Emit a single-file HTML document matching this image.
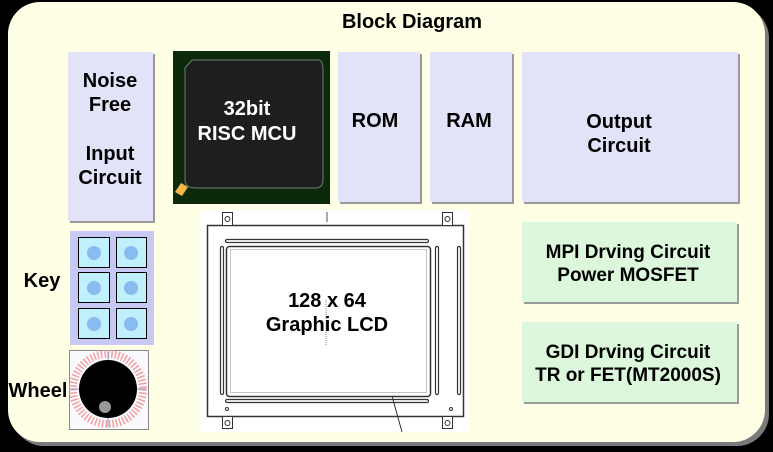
<!DOCTYPE html>
<html><head><meta charset="utf-8"><style>
html,body{margin:0;padding:0;background:#000;}
svg{display:block;}
text{font-family:"Liberation Sans",Arial,sans-serif;font-weight:bold;}
</style></head><body>
<svg width="773" height="452" viewBox="0 0 773 452" xmlns="http://www.w3.org/2000/svg">
<rect width="773" height="452" fill="#000"/>
<rect x="12" y="6" width="757" height="440" rx="32" fill="#7a7a7a"/>
<rect x="8" y="2" width="757" height="440" rx="32" fill="#ffffe6"/>
<text x="412" y="28" font-size="20" text-anchor="middle" fill="#000">Block Diagram</text>

<!-- Noise box -->
<rect x="70" y="54" width="85" height="169" fill="#999"/>
<rect x="68" y="52" width="85" height="169" fill="#e2e2f8"/>
<g font-size="20" text-anchor="middle" fill="#000">
<text x="110" y="87">Noise</text><text x="110" y="111">Free</text>
<text x="110" y="160">Input</text><text x="110" y="184">Circuit</text>
</g>

<!-- MCU -->
<rect x="173" y="51" width="157" height="153" fill="#0a2a0a"/>
<path d="M185 68 L192 60 L318 60 Q323 60 323 70 L323 180 Q323 188 315 188 L196 188 Q185 188 185 180 Z" fill="#1e1e1e" stroke="#777" stroke-width="1"/>
<polygon points="175,192 181,183 188,187 182,196" fill="#f2b84b"/>
<g font-size="20" text-anchor="middle" fill="#fff">
<text x="247" y="115">32bit</text><text x="247" y="140">RISC MCU</text>
</g>

<!-- ROM/RAM/Output -->
<rect x="340" y="54" width="82" height="150" fill="#999"/>
<rect x="338" y="52" width="82" height="150" fill="#e2e2f8"/>
<rect x="432" y="54" width="82" height="150" fill="#999"/>
<rect x="430" y="52" width="82" height="150" fill="#e2e2f8"/>
<rect x="524" y="54" width="216" height="150" fill="#999"/>
<rect x="522" y="52" width="216" height="150" fill="#e2e2f8"/>
<g font-size="20" text-anchor="middle" fill="#000">
<text x="375" y="127">ROM</text><text x="469" y="127">RAM</text>
<text x="619" y="128">Output</text><text x="619" y="152">Circuit</text>
</g>

<!-- MPI / GDI -->
<rect x="524" y="224" width="215" height="80" fill="#999"/>
<rect x="522" y="222" width="215" height="80" fill="#dcf7dc"/>
<rect x="524" y="324" width="215" height="80" fill="#999"/>
<rect x="522" y="322" width="215" height="80" fill="#dcf7dc"/>
<g font-size="19" text-anchor="middle" fill="#000">
<text x="628" y="258">MPI Drving Circuit</text><text x="628" y="281">Power MOSFET</text>
<text x="628" y="358">GDI Drving Circuit</text><text x="628" y="381">TR or FET(MT2000S)</text>
</g>

<!-- Keys -->
<text x="42" y="287" font-size="20" text-anchor="middle" fill="#000">Key</text>
<rect x="70" y="231" width="84" height="114" fill="#c8c8f4"/>
<g stroke="#000" stroke-width="1" fill="#c0f0fb">
<rect x="78.5" y="237.5" width="31" height="30"/><rect x="116.5" y="237.5" width="30" height="30"/>
<rect x="78.5" y="272.5" width="31" height="30"/><rect x="116.5" y="272.5" width="30" height="30"/>
<rect x="78.5" y="308.5" width="31" height="30"/><rect x="116.5" y="308.5" width="30" height="30"/>
</g>
<g fill="#88bbee">
<circle cx="94" cy="253" r="7"/><circle cx="131" cy="253" r="7"/>
<circle cx="94" cy="288" r="7"/><circle cx="131" cy="288" r="7"/>
<circle cx="94" cy="324" r="7"/><circle cx="131" cy="324" r="7"/>
</g>

<!-- Wheel -->
<rect x="69.5" y="350.5" width="79" height="79" fill="#fafafe" stroke="#888"/>
<circle cx="108" cy="389" r="35" fill="none" stroke="#f0a0a0" stroke-width="8" stroke-dasharray="1.5 2"/>
<line x1="108" y1="352" x2="108" y2="427" stroke="#8899cc"/>
<line x1="71" y1="389" x2="146" y2="389" stroke="#8899cc"/>
<circle cx="108" cy="389" r="29" fill="#000"/>
<circle cx="105" cy="407" r="6" fill="#999"/>
<text x="38" y="397" font-size="20" text-anchor="middle" fill="#000">Wheel</text>

<!-- LCD -->
<rect x="200" y="210" width="270" height="222" fill="#fff"/>
<rect x="207.5" y="225.5" width="256" height="191" fill="#fff" stroke="#333" stroke-width="1.5"/>
<g fill="#fff" stroke="#333">
<rect x="222.5" y="212.5" width="10" height="13"/><rect x="442.5" y="212.5" width="10" height="13"/>
<rect x="222.5" y="416.5" width="10" height="12"/><rect x="442.5" y="416.5" width="10" height="12"/>
<circle cx="227.5" cy="219" r="2.5"/><circle cx="447.5" cy="219" r="2.5"/>
<circle cx="227.5" cy="423" r="2.5"/><circle cx="447.5" cy="423" r="2.5"/>
<circle cx="227" cy="409" r="1.5"/><circle cx="451" cy="409" r="1.5"/>
</g>
<line x1="327" y1="212" x2="327" y2="222" stroke="#555"/>
<g fill="#fff" stroke="#333" stroke-width="1.2">
<rect x="225.5" y="239.5" width="203" height="3" rx="1.5"/>
<rect x="225.5" y="399.5" width="203" height="3" rx="1.5"/>
<rect x="220.5" y="246.5" width="3" height="148" rx="1.5"/>
<rect x="435.5" y="246.5" width="3" height="148" rx="1.5"/>
<rect x="457.5" y="246.5" width="3" height="148" rx="1.5"/>
</g>
<rect x="226.5" y="246.5" width="204" height="150" rx="3" fill="#fff" stroke="#333" stroke-width="1.5"/>
<rect x="230.5" y="249.5" width="196" height="143" fill="none" stroke="#888" stroke-dasharray="1 1"/>
<line x1="326" y1="300" x2="326" y2="345" stroke="#888" stroke-dasharray="1 1"/>
<line x1="392" y1="396" x2="402" y2="432" stroke="#333"/>
<g font-size="20" text-anchor="middle" fill="#000">
<text x="327" y="307">128 x 64</text><text x="327" y="331">Graphic LCD</text>
</g>
</svg>
</body></html>
